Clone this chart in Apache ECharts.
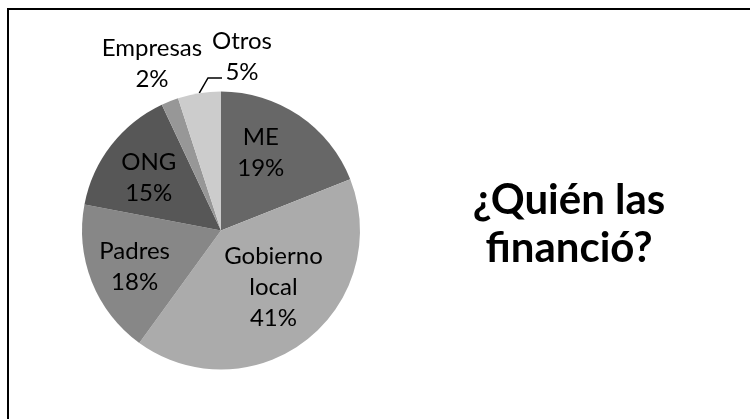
<!DOCTYPE html>
<html>
<head>
<meta charset="utf-8">
<script src="https://cdn.jsdelivr.net/npm/echarts@6/dist/echarts.min.js"></script>
<style>
  html, body { margin: 0; padding: 0; background: #fff; }
  #chart { width: 750px; height: 419px; }
</style>
</head>
<body>
<div id="chart"></div>
<script>
// datos del gráfico
const categorias = ['ME', 'Gobierno\nlocal', 'Padres', 'ONG', 'Empresas', 'Otros']
const valores = [19, 41, 18, 15, 2, 5]
const colores = ['#676767', '#ababab', '#878787', '#575757', '#979797', '#cccccc']

// desplazamiento de las etiquetas (dx, dy) para parecerse al original
const ajusteEtiquetas = [[-1, -18], [8, -1], [-19, 10], [-15, -8], [0, 0], [0, 0]]

const myChart = echarts.init(document.getElementById('chart'))

const option = {
  animation: false,
  textStyle: { fontFamily: 'Lato' },
  title: {
    text: '¿Quién las\nfinanció?',
    left: 569,
    top: 176,
    textAlign: 'center',
    padding: 0,
    textStyle: {
      fontFamily: 'Lato',
      fontWeight: 'bold',
      fontSize: 42,
      lineHeight: 48,
      color: '#000'
    }
  },
  graphic: [
    {
      type: 'rect',
      shape: { x: 8, y: 9, width: 800, height: 500 },
      style: { fill: null, stroke: '#000', lineWidth: 2 },
      silent: true
    }
  ],
  series: [
    {
      type: 'pie',
      center: [221, 230.5],
      radius: 139,
      startAngle: 90,
      clockwise: true,
      avoidLabelOverlap: false,
      itemStyle: { borderWidth: 0 },
      emphasis: { disabled: true },
      label: {
        position: 'inside',
        formatter: '{b}\n{c}%',
        fontFamily: 'Lato',
        fontSize: 24,
        lineHeight: 31,
        color: '#000'
      },
      labelLayout: function (params) {
        const i = params.dataIndex
        if (i === 4) return { x: 152, y: 64, align: 'center', verticalAlign: 'middle' }
        if (i === 5) {
          // la línea guía sube desde el sector hasta el "5%"
          const inicio = params.labelLinePoints ? params.labelLinePoints[0] : [200, 93]
          return {
            x: 242, y: 57, align: 'center', verticalAlign: 'middle',
            labelLinePoints: [inicio, [208, 78], [222, 78]]
          }
        }
        return { dx: ajusteEtiquetas[i][0], dy: ajusteEtiquetas[i][1] }
      },
      data: categorias.map((nombre, i) => {
        const item = {
          name: nombre,
          value: valores[i],
          itemStyle: { color: colores[i] }
        }
        if (i >= 4) {
          item.label = { position: 'outside', align: 'center' }
          item.labelLine = {
            show: i === 5,
            length: 8,
            length2: 14,
            lineStyle: { color: '#000', width: 1.5 }
          }
        }
        return item
      })
    }
  ]
}

myChart.setOption(option)

window.onresize = () => {
  myChart.resize()
}
</script>
</body>
</html>
